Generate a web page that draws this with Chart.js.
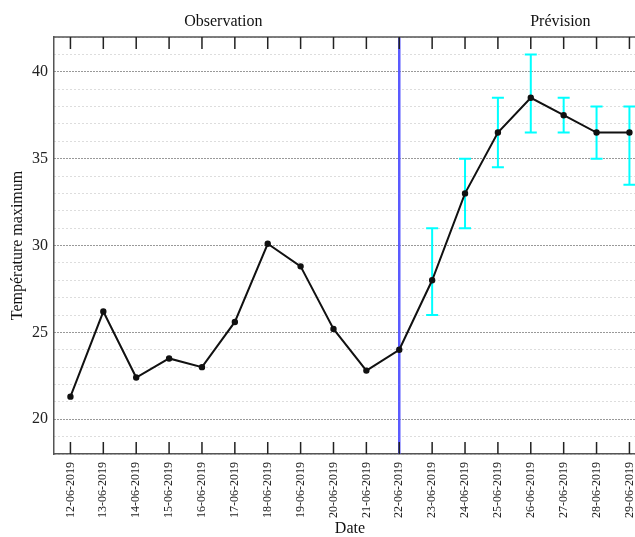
<!DOCTYPE html>
<html>
<head>
<meta charset="utf-8">
<script src="https://cdn.jsdelivr.net/npm/chart.js@4/dist/chart.umd.min.js"></script>
<style>
  html, body { margin:0; padding:0; background:#fff; overflow:hidden; }
  #wrap { width:652px; height:537px; }
</style>
</head>
<body>
<div id="wrap"><canvas id="c" width="652" height="537"></canvas></div>
<script>
const dates = ['12-06-2019','13-06-2019','14-06-2019','15-06-2019','16-06-2019','17-06-2019','18-06-2019','19-06-2019','20-06-2019','21-06-2019','22-06-2019','23-06-2019','24-06-2019','25-06-2019','26-06-2019','27-06-2019','28-06-2019','29-06-2019'];
const tmax = [21.3, 26.2, 22.4, 23.5, 23.0, 25.6, 30.1, 28.8, 25.2, 22.8, 24.0, 28.0, 33.0, 36.5, 38.5, 37.5, 36.5, 36.5];
const errLow  = [null,null,null,null,null,null,null,null,null,null,null, 26, 31, 34.5, 36.5, 36.5, 35, 33.5];
const errHigh = [null,null,null,null,null,null,null,null,null,null,null, 31, 35, 38.5, 41, 38.5, 38, 38];
const splitDate = '22-06-2019';
const sections = [{text:'Observation', at:4.65}, {text:'Prévision', at:14.9}];
const yTitle = 'Température maximum';
const xTitle = 'Date';

const SERIF = '"Liberation Serif", "DejaVu Serif", serif';

const extras = {
  id:'extras',
  beforeDatasetsDraw(chart){
    const {ctx, chartArea:a, scales:{x, y}} = chart;
    ctx.save();
    // separation observation / prevision
    const sx = x.getPixelForValue(dates.indexOf(splitDate));
    ctx.strokeStyle = 'rgb(90,90,255)'; ctx.lineWidth = 2.5;
    ctx.beginPath(); ctx.moveTo(sx, a.top); ctx.lineTo(sx, a.bottom); ctx.stroke();
    // error bars
    ctx.strokeStyle = '#00ffff'; ctx.lineWidth = 2;
    errLow.forEach((lo, i) => {
      if(lo == null) return;
      const px = x.getPixelForValue(i), y0 = y.getPixelForValue(lo), y1 = y.getPixelForValue(errHigh[i]);
      ctx.beginPath();
      ctx.moveTo(px, y0); ctx.lineTo(px, y1);
      ctx.moveTo(px-6, y0); ctx.lineTo(px+6, y0);
      ctx.moveTo(px-6, y1); ctx.lineTo(px+6, y1);
      ctx.stroke();
    });
    ctx.restore();
  },
  afterDraw(chart){
    const {ctx, chartArea:a, scales:{x}} = chart;
    ctx.save();
    ctx.strokeStyle = '#555'; ctx.lineWidth = 1.5;
    ctx.beginPath(); ctx.moveTo(a.left, a.top); ctx.lineTo(a.right, a.top); ctx.stroke();
    ctx.strokeStyle = '#222'; ctx.lineWidth = 1.5;
    x.ticks.forEach((t, i) => {
      const px = x.getPixelForTick(i);
      ctx.beginPath();
      ctx.moveTo(px, a.top); ctx.lineTo(px, a.top+12);
      ctx.moveTo(px, a.bottom); ctx.lineTo(px, a.bottom-12);
      ctx.stroke();
    });
    ctx.fillStyle = '#111'; ctx.font = '16px ' + SERIF;
    ctx.textAlign = 'center'; ctx.textBaseline = 'middle';
    sections.forEach(s => ctx.fillText(s.text, x.getPixelForValue(s.at), 22));
    ctx.restore();
  }
};

new Chart(document.getElementById('c'), {
  type:'line',
  data:{ labels:dates, datasets:[{
    data:tmax, borderColor:'#111', borderWidth:2, tension:0,
    pointRadius:2.2, pointBackgroundColor:'#111', pointBorderColor:'#111'
  }]},
  options:{
    responsive:false, animation:false,
    layout:{ padding:{ top:37, left:0, right:0, bottom:0 } },
    plugins:{ legend:{display:false}, tooltip:{enabled:false} },
    scales:{
      x:{
        offset:true,
        grid:{ display:false, drawTicks:false },
        border:{ color:'#555', width:1.5 },
        ticks:{ color:'#222', autoSkip:false, maxRotation:90, minRotation:90, padding:8,
                font:{ family:SERIF, size:12 } },
        title:{ display:true, text:xTitle, color:'#111', padding:0,
                font:{ family:SERIF, size:16, lineHeight:1 } },
        afterFit(s){ s.height = 83; }
      },
      y:{
        min:18, max:42,
        grid:{ drawTicks:false, lineWidth:1,
               color: c => c.tick.value % 5 === 0 ? '#333' : '#bbb' },
        border:{ color:'#555', width:1.5,
                 dash: c => c.tick && c.tick.value % 5 === 0 ? [1,2] : [1,3] },
        ticks:{ stepSize:1, autoSkip:false, padding:6, color:'#222',
                font:{ family:SERIF, size:16 },
                callback: v => v % 5 === 0 ? v : '' },
        title:{ display:true, text:yTitle, color:'#111', padding:{top:8, bottom:0},
                font:{ family:SERIF, size:16, lineHeight:1.2 } },
        afterFit(s){ s.width = 54; }
      }
    }
  },
  plugins:[extras]
});
</script>
</body>
</html>
